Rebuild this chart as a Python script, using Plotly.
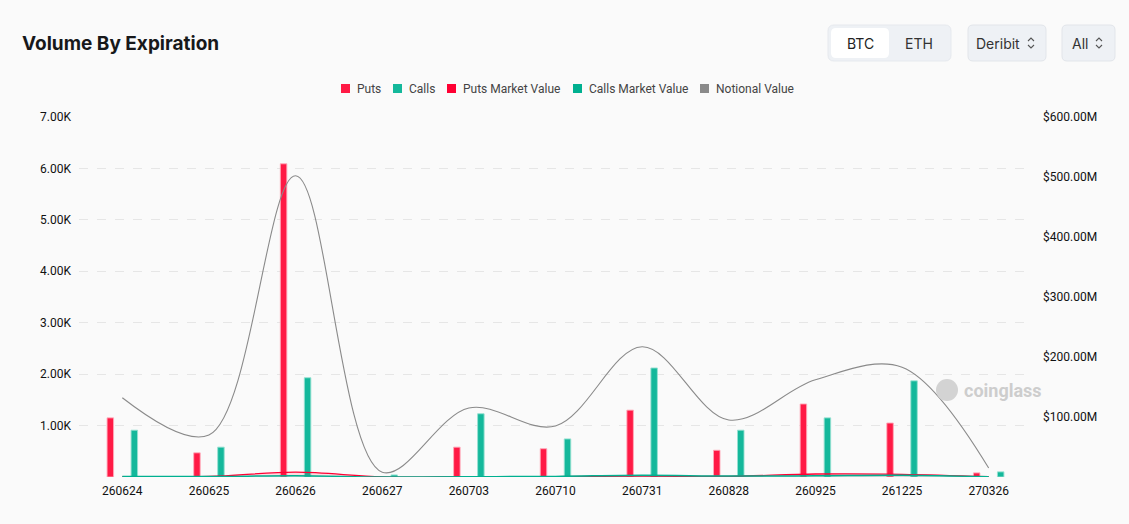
import plotly.graph_objects as go

# ---------------------------------------------------------------- data
expirations = ["260624", "260625", "260626", "260627", "260703", "260710",
               "260731", "260828", "260925", "261225", "270326"]
puts = [1150, 470, 6090, 0, 580, 550, 1300, 520, 1420, 1050, 80]
calls = [910, 580, 1930, 40, 1230, 740, 2120, 910, 1150, 1870, 100]
puts_mv = [0.5e6, 0.8e6, 8e6, 0.3e6, 0.5e6, 0.6e6, 1.5e6, 1.0e6, 5e6, 4.5e6, 0.5e6]
calls_mv = [1e6, 0.7e6, 2e6, 0.1e6, 0.5e6, 1e6, 3e6, 1.5e6, 2e6, 3e6, 0.5e6]
notional = [132e6, 70e6, 502e6, 8e6, 115e6, 85e6, 217e6, 95e6, 162e6, 183e6, 15e6]

left_ticks = [0, 1000, 2000, 3000, 4000, 5000, 6000, 7000]
left_text = ["", "1.00K", "2.00K", "3.00K", "4.00K", "5.00K", "6.00K", "7.00K"]
right_ticks = [100e6, 200e6, 300e6, 400e6, 500e6, 600e6]
right_text = ["$100.00M", "$200.00M", "$300.00M", "$400.00M", "$500.00M", "$600.00M"]

RED = "#ff1a45"
RED_MV = "#ff0033"
GREEN = "#14b89b"
GREEN_MV = "#00b090"
GREY = "#8a8a8a"

# legend entries: name, colour, left px of the square
legend_items = [("Puts", RED, 341), ("Calls", GREEN, 393),
                ("Puts Market Value", RED_MV, 447),
                ("Calls Market Value", GREEN_MV, 573),
                ("Notional Value", GREY, 700)]

# ---------------------------------------------------------------- layout in px
W, H = 1129, 524
L, R, T, B = 79, 1032, 117, 477   # plot area edges (px)


def px(x):
    return (x - L) / (R - L)


def py(y):
    return (B - y) / (B - T)


def rrect(x0, y0, x1, y1, r):
    """rounded rect path in paper units from a px box"""
    rx = r / (R - L)
    ry = r / (B - T)
    a, b, c, d = px(x0), px(x1), py(y0), py(y1)  # c top, d bottom
    return (f"M{a+rx},{c} L{b-rx},{c} Q{b},{c} {b},{c-ry} "
            f"L{b},{d+ry} Q{b},{d} {b-rx},{d} L{a+rx},{d} "
            f"Q{a},{d} {a},{d+ry} L{a},{c-ry} Q{a},{c} {a+rx},{c} Z")


def chevrons(cx, cy):
    up = f"M{px(cx-3)},{py(cy-2)} L{px(cx)},{py(cy-5)} L{px(cx+3)},{py(cy-2)}"
    dn = f"M{px(cx-3)},{py(cy+2)} L{px(cx)},{py(cy+5)} L{px(cx+3)},{py(cy+2)}"
    return [dict(type="path", xref="paper", yref="paper", path=p,
                 line=dict(color="#555", width=1.1)) for p in (up, dn)]


fig = go.Figure()

bar_w = 0.075
fig.add_trace(go.Bar(
    x=expirations, y=puts, name="Puts", marker_color=RED,
    marker_line=dict(color="rgba(255,170,185,0.9)", width=1),
    width=bar_w, offset=-0.176,
))
fig.add_trace(go.Bar(
    x=expirations, y=calls, name="Calls", marker_color=GREEN,
    marker_line=dict(color="rgba(150,225,210,0.9)", width=1),
    width=bar_w, offset=0.101,
))
fig.add_trace(go.Scatter(
    x=expirations, y=puts_mv, yaxis="y2", mode="lines", line_shape="spline",
    line=dict(color=RED_MV, width=1.3), fill="tozeroy",
    fillcolor="rgba(255,0,51,0.12)", name="Puts Market Value",
))
fig.add_trace(go.Scatter(
    x=expirations, y=calls_mv, yaxis="y2", mode="lines", line_shape="spline",
    line=dict(color=GREEN_MV, width=1.5), fill="tozeroy",
    fillcolor="rgba(0,176,144,0.15)", name="Calls Market Value",
))
fig.add_trace(go.Scatter(
    x=expirations, y=notional, yaxis="y2", mode="lines", line_shape="spline",
    line=dict(color=GREY, width=1.1), name="Notional Value",
))

shapes = [
    # BTC / ETH segmented control
    dict(type="path", xref="paper", yref="paper", path=rrect(828, 25, 951, 61, 6),
         fillcolor="#eef1f5", line=dict(color="#e6e9ee", width=1), layer="below"),
    dict(type="path", xref="paper", yref="paper", path=rrect(831, 28, 889, 58, 5),
         fillcolor="#ffffff", line=dict(width=0), layer="below"),
    dict(type="path", xref="paper", yref="paper", path=rrect(968, 25, 1046, 61, 5),
         fillcolor="#eef1f5", line=dict(color="#e2e5ea", width=1), layer="below"),
    dict(type="path", xref="paper", yref="paper", path=rrect(1062, 25, 1115, 61, 5),
         fillcolor="#eef1f5", line=dict(color="#e2e5ea", width=1), layer="below"),
    # watermark logo blob
    dict(type="circle", xref="paper", yref="paper",
         x0=px(936), x1=px(958), y0=py(401), y1=py(379),
         fillcolor="#d3d3d3", line=dict(width=0)),
]
shapes += chevrons(1031, 43) + chevrons(1099, 43)

annotations = [
    dict(text="<b>Volume By Expiration</b>", x=px(20), y=py(43), xanchor="left",
         font=dict(family="Inter", size=19, color="#17181a")),
    dict(text="BTC", x=px(860), y=py(43), font=dict(family="Inter", size=14, color="#222")),
    dict(text="ETH", x=px(919), y=py(43), font=dict(family="Inter", size=14, color="#333")),
    dict(text="Deribit", x=px(998), y=py(43), font=dict(family="Inter", size=14, color="#333")),
    dict(text="All", x=px(1080), y=py(43), font=dict(family="Inter", size=14, color="#333")),
    dict(text="<b>coinglass</b>", x=px(962), y=py(390), xanchor="left",
         font=dict(family="Roboto", size=18, color="#cdcdcd")),
]
for name, col, x0 in legend_items:
    shapes.append(dict(type="rect", xref="paper", yref="paper",
                       x0=px(x0), x1=px(x0 + 9), y0=py(93), y1=py(84),
                       fillcolor=col, line=dict(width=0)))
    annotations.append(dict(text=name, x=px(x0 + 14), y=py(88.5), xanchor="left",
                            font=dict(family="Roboto", size=12, color="#444")))
for a in annotations:
    a.setdefault("xref", "paper")
    a.setdefault("yref", "paper")
    a.setdefault("xanchor", "center")
    a.setdefault("yanchor", "middle")
    a.setdefault("showarrow", False)

fig.update_layout(
    width=W, height=H,
    margin=dict(l=L, r=W - R, t=T, b=H - B, pad=0),
    paper_bgcolor="#fafafa", plot_bgcolor="#fafafa",
    barmode="overlay",
    font=dict(family="Roboto", size=12, color="#222"),
    showlegend=False,
    xaxis=dict(type="category", showgrid=False, zeroline=False, showline=False,
               ticks="", ticklabelstandoff=5, tickfont=dict(size=12, color="#111")),
    yaxis=dict(range=[0, 7000], tickvals=left_ticks, ticktext=left_text,
               showgrid=True, gridcolor="#e6e6e6", griddash="dash", gridwidth=1,
               zeroline=False, showline=False, ticks="", ticklabelstandoff=7,
               tickfont=dict(size=12, color="#111")),
    yaxis2=dict(range=[0, 600e6], overlaying="y", side="right",
                tickvals=right_ticks, ticktext=right_text, showgrid=False,
                zeroline=False, showline=False, ticks="", ticklabelstandoff=10,
                tickfont=dict(size=12, color="#111")),
    shapes=shapes,
    annotations=annotations,
    hovermode="x",
)

fig.write_html("out.html", config={"displayModeBar": False},
               post_script="document.body.style.margin='0';")
